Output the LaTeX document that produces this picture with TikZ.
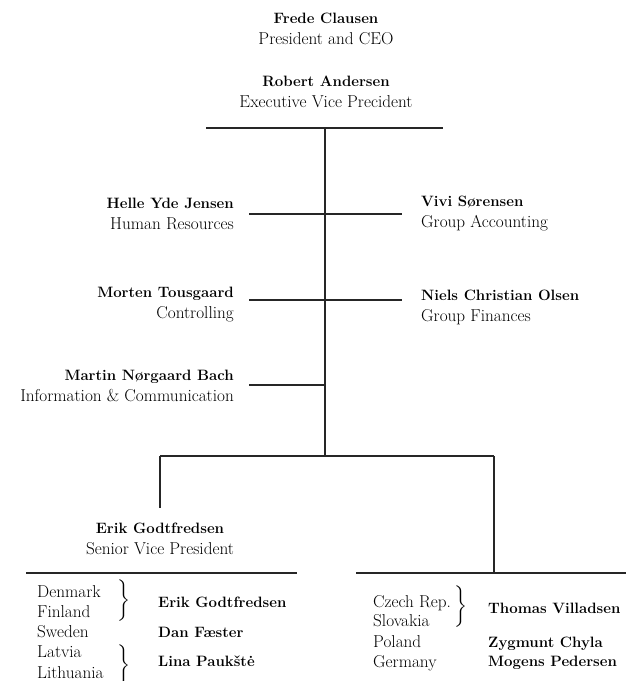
\documentclass[tikz,border=0pt]{standalone}
\usepackage{fontspec}
\usepackage{amsmath}
\usetikzlibrary{positioning}

\newcommand{\chartfont}{\fontsize{17.2}{21}\selectfont}
\newcommand{\who}[1]{{\fontsize{15}{21}\selectfont\bfseries #1}}

\tikzset{
  head/.style={align=center, inner sep=0pt, font=\chartfont},
  unitleft/.style={align=right, anchor=east, inner sep=0pt, font=\chartfont},
  unitright/.style={align=left, anchor=west, inner sep=0pt, font=\chartfont},
  country/.style={anchor=base west, inner sep=0pt, font=\chartfont},
  manager/.style={anchor=base west, inner sep=0pt, font=\fontsize{15}{21}\selectfont\bfseries},
  bracket/.style={inner sep=0pt, font=\chartfont},
  bar/.style={line width=1.2pt, draw=black!85},
}

\begin{document}
\begin{tikzpicture}[x=1pt, y=-1pt]
  \useasboundingbox (0,0) rectangle (626,681);

  % Top management
  \node[head] (ceo) at (326,29) {\who{Frede Clausen}\\President and CEO};
  \node[head] (evp) at (326,92) {\who{Robert Andersen}\\Executive Vice Precident};

  % Junctions of the tree
  \coordinate (topL) at (206,128);
  \coordinate (topR) at (443,128);
  \coordinate (topM) at (325,128);
  \coordinate (hrL) at (249,214);
  \coordinate (hrR) at (402,214);
  \coordinate (ctL) at (249,300);
  \coordinate (ctR) at (402,300);
  \coordinate (icL) at (249,385);
  \coordinate (icM) at (325,385);
  \coordinate (lowM) at (325,456);
  \coordinate (lowL) at (160,456);
  \coordinate (lowR) at (494,456);
  \coordinate (svpTop) at (160,508);
  \coordinate (eastTop) at (494,573);
  \coordinate (nordL) at (26,573);
  \coordinate (nordR) at (297,573);
  \coordinate (eastL) at (356,573);
  \coordinate (eastR) at (626,573);

  % Staff functions
  \node[unitleft] (hr) at (234,214) {\who{Helle Yde Jensen}\\Human Resources};
  \node[unitright] (acc) at (421,214) {\who{Vivi Sørensen}\\Group Accounting};
  \node[unitleft] (ctrl) at (234,305) {\who{Morten Tousgaard}\\Controlling};
  \node[unitright] (fin) at (421,307) {\who{Niels Christian Olsen}\\Group Finances};
  \node[unitleft] (ict) at (234,386) {\who{Martin Nørgaard Bach}\\Information \& Communication};

  % Senior vice president
  \node[head] (svp) at (160,539) {\who{Erik Godtfredsen}\\Senior Vice President};

  % Tree lines
  \draw[bar] (topL) -- (topR);
  \draw[bar] (topM) -- (lowM);
  \draw[bar] (hrL) -- (hrR);
  \draw[bar] (ctL) -- (ctR);
  \draw[bar] (icL) -- (icM);
  \draw[bar] (lowL) -- (lowR);
  \draw[bar] (lowL) -- (svpTop);
  \draw[bar] (lowR) -- (eastTop);
  \draw[bar] (nordL) -- (nordR);
  \draw[bar] (eastL) -- (eastR);

  % Nordic and Baltic countries
  \node[country] (dk) at (37,597) {Denmark};
  \node[country] (fi) at (37,617) {Finland};
  \node[country] (se) at (37,637) {Sweden};
  \node[country] (lv) at (37,657) {Latvia};
  \node[country] (lt) at (37,678) {Lithuania};
  \node[bracket] (brDKFI) at (124,601) {$\bigg\}$};
  \node[bracket] (brLVLT) at (124,666) {$\bigg\}$};
  \node[manager] (mgrDKFI) at (158,607) {Erik Godtfredsen};
  \node[manager] (mgrSE) at (158,637) {Dan Fæster};
  \node[manager] (mgrLVLT) at (158,666) {Lina Paukštė};

  % Central European countries
  \node[country] (cz) at (373,607) {Czech Rep.};
  \node[country] (sk) at (373,626) {Slovakia};
  \node[country] (pl) at (373,647) {Poland};
  \node[country] (de) at (373,667) {Germany};
  \node[bracket] (brCZSK) at (461,607) {$\bigg\}$};
  \node[manager] (mgrCZSK) at (488,613) {Thomas Villadsen};
  \node[manager] (mgrPL) at (488,647) {Zygmunt Chyla};
  \node[manager] (mgrDE) at (488,666) {Mogens Pedersen};
\end{tikzpicture}
\end{document}
